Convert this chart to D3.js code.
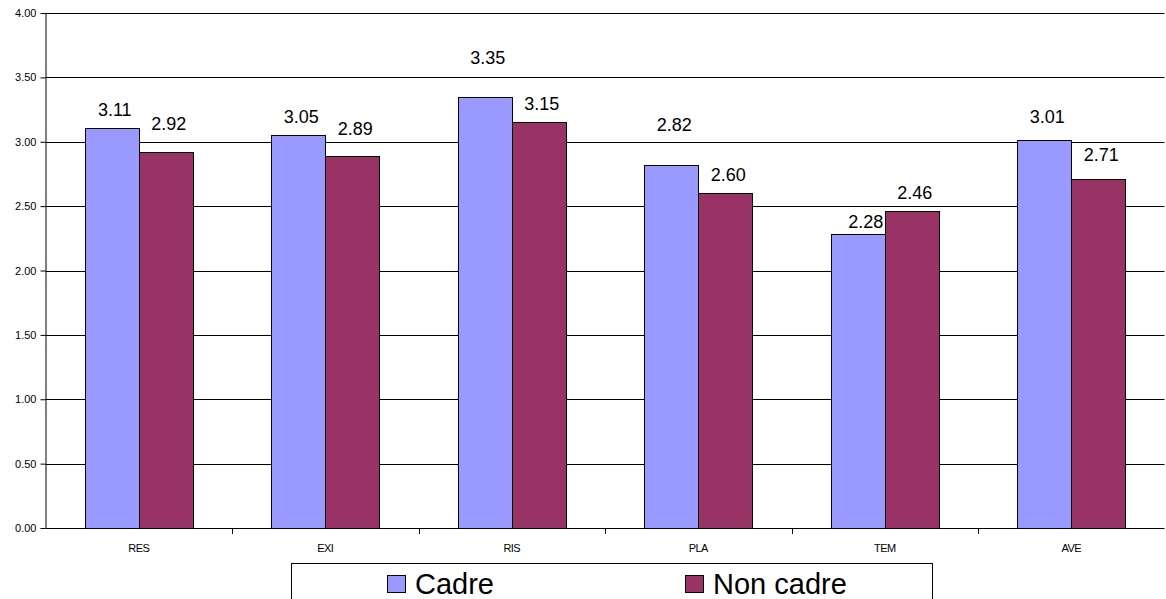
<!DOCTYPE html>
<html>
<head>
<meta charset="utf-8">
<script src="https://cdn.jsdelivr.net/npm/d3@7"></script>
<style>
  html, body { margin: 0; padding: 0; background: #fff; }
  svg { display: block; font-family: "Liberation Sans", Arial, sans-serif; }
</style>
</head>
<body>
<svg id="chart" width="1166" height="599"></svg>
<script>
// Scores by dimension for the two staff groups
const categories = ["RES", "EXI", "RIS", "PLA", "TEM", "AVE"];
const seriesNames = ["Cadre", "Non cadre"];
const cadre = [3.11, 3.05, 3.35, 2.82, 2.28, 3.01];
const nonCadre = [2.92, 2.89, 3.15, 2.60, 2.46, 2.71];
const yTicks = [0, 0.5, 1, 1.5, 2, 2.5, 3, 3.5, 4];

const colors = ["#9999ff", "#993366"];
const seriesValues = [cadre, nonCadre];

const svg = d3.select("#chart");
const plot = { left: 45.5, right: 1164.5, top: 13, bottom: 528 };

const x = d3.scaleBand().domain(categories).range([plot.left, plot.right]).padding(0);
const y = d3.scaleLinear().domain([0, 4]).range([plot.bottom, plot.top]);
const barW = 54;

// Horizontal gridlines
svg.append("g")
  .selectAll("line")
  .data(yTicks.filter(d => d > 0))
  .join("line")
  .attr("x1", plot.left).attr("x2", plot.right)
  .attr("y1", d => Math.round(y(d)) + 0.5).attr("y2", d => Math.round(y(d)) + 0.5)
  .attr("stroke", "#000").attr("stroke-width", 1);

// Bars
const rows = [];
categories.forEach((c, i) => {
  seriesValues.forEach((vals, s) => rows.push({ cat: c, s, v: vals[i] }));
});

const barX = d => x(d.cat) + x.bandwidth() / 2 + (d.s === 0 ? -barW : 0);

svg.append("g")
  .selectAll("rect")
  .data(rows)
  .join("rect")
  .attr("x", d => Math.round(barX(d)) + 0.5)
  .attr("y", d => Math.round(y(d.v)) + 0.5)
  .attr("width", barW)
  .attr("height", d => Math.round(y(0)) - Math.round(y(d.v)))
  .attr("fill", d => colors[d.s])
  .attr("stroke", "#000")
  .attr("stroke-width", 1);

// Value labels (a few are lifted to keep them clear of neighbours)
const lift = { "RES-1": 10, "EXI-1": 9, "RIS-0": 21, "PLA-0": 22, "TEM-0": -6, "AVE-0": 5, "AVE-1": 6 };
const shiftX = { "TEM-0": 5 };
svg.append("g")
  .selectAll("text")
  .data(rows)
  .join("text")
  .attr("x", d => barX(d) + barW / 2 + 3 + (shiftX[d.cat + "-" + d.s] || 0))
  .attr("y", d => y(d.v) - 12 - (lift[d.cat + "-" + d.s] || 0))
  .attr("text-anchor", "middle")
  .attr("font-size", 18)
  .attr("fill", "#000")
  .text(d => d3.format(".2f")(d.v));

// Y axis
const yAxis = svg.append("g")
  .attr("transform", `translate(${plot.left},0)`)
  .call(d3.axisLeft(y).tickValues(yTicks).tickFormat(d3.format(".2f")).tickSize(5).tickPadding(4));
yAxis.select(".domain").attr("stroke", "#000").attr("d", `M0.5,${plot.top}V${plot.bottom + 0.5}`);
yAxis.selectAll(".tick line").attr("stroke", "#000");
yAxis.selectAll(".tick text")
  .attr("font-size", 11).attr("font-family", "Liberation Sans, Arial, sans-serif").attr("fill", "#000");

// X axis
const xAxis = svg.append("g")
  .attr("transform", `translate(0,${Math.round(plot.bottom) + 0.5})`)
  .call(d3.axisBottom(x).tickSize(0).tickPadding(16));
xAxis.select(".domain").attr("stroke", "#000").attr("d", `M${plot.left},0H${plot.right}`);
xAxis.selectAll(".tick text")
  .attr("font-size", 11).attr("font-family", "Liberation Sans, Arial, sans-serif")
  .attr("letter-spacing", -0.6).attr("fill", "#000");

// Category boundary ticks
svg.append("g")
  .selectAll("line")
  .data(categories.slice(1))
  .join("line")
  .attr("x1", d => Math.round(x(d)) + 0.5).attr("x2", d => Math.round(x(d)) + 0.5)
  .attr("y1", plot.bottom).attr("y2", plot.bottom + 6)
  .attr("stroke", "#000");

// Legend (box runs past the bottom edge)
const legend = svg.append("g");
legend.append("rect")
  .attr("x", 291.5).attr("y", 563.5).attr("width", 641).attr("height", 45)
  .attr("fill", "#fff").attr("stroke", "#000").attr("stroke-width", 1);
const legendX = [387, 685];
seriesNames.forEach((name, i) => {
  legend.append("rect")
    .attr("x", legendX[i] + 0.5).attr("y", 575.5).attr("width", 18).attr("height", 17)
    .attr("fill", colors[i]).attr("stroke", "#000");
  legend.append("text")
    .attr("x", legendX[i] + 28).attr("y", 594)
    .attr("font-size", 29).attr("fill", "#000")
    .text(name);
});
</script>
</body>
</html>
